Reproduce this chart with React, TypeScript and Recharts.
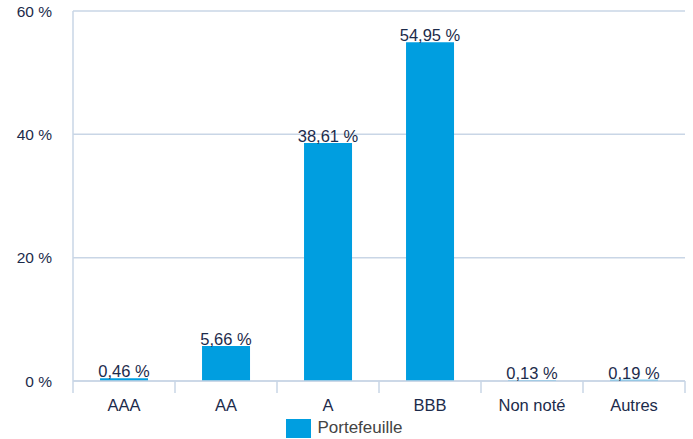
import React from 'react';
import { BarChart, Bar, XAxis, YAxis, CartesianGrid, Legend, LabelList } from 'recharts';

// notations du portefeuille
const categories = ['AAA', 'AA', 'A', 'BBB', 'Non noté', 'Autres'];
const portefeuille = [0.46, 5.66, 38.61, 54.95, 0.13, 0.19];
const yTicks = [0, 20, 40, 60];

const data = categories.map((name, i) => ({ name, Portefeuille: portefeuille[i] }));

const FONT = '"Liberation Sans", Arial, Helvetica, sans-serif';
const NAVY = '#1c2b4b';
const GRID = '#c9d6e6';
const BLUE = '#009ee0';

const fmt = (v: number) => v.toFixed(2).replace('.', ',') + ' %';

// libellé centré + petit trait de séparation aux bornes des catégories
const CategoryTick = (props: any) => {
  const { x, y, payload, index } = props;
  const half = payload && payload.offset ? payload.offset : 51;
  const last = index === categories.length - 1;
  return (
    <g>
      <line x1={x - half} y1={y} x2={x - half} y2={y + 12} stroke={GRID} strokeWidth={1.5} />
      {last && <line x1={x + half} y1={y} x2={x + half} y2={y + 12} stroke={GRID} strokeWidth={1.5} />}
      <text x={x} y={y + 30} textAnchor="middle" fill={NAVY} fontSize={16.5} fontFamily={FONT}>
        {payload.value}
      </text>
    </g>
  );
};

const ValueLabel = (props: any) => {
  const { x, y, width, value } = props;
  return (
    <text x={Number(x) + Number(width) / 2} y={Number(y) - 1} textAnchor="middle" fill={NAVY} fontSize={16.5} fontFamily={FONT}>
      {fmt(Number(value))}
    </text>
  );
};

const LegendBox = () => (
  <div style={{ display: 'flex', justifyContent: 'center', alignItems: 'center', height: 22 }}>
    <div style={{ width: 25, height: 19, background: BLUE, marginRight: 6, marginLeft: 4 }} />
    <span style={{ fontFamily: FONT, fontSize: 17, color: '#444' }}>Portefeuille</span>
  </div>
);

const App = () => {
  return (
    <div style={{ width: 693, height: 439 }}>
      <style>{'body{margin:0}'}</style>
      <BarChart
        width={693}
        height={439}
        data={data}
        margin={{ top: 11, right: 8, left: 0, bottom: 0 }}
        barCategoryGap="26.5%"
      >
        <CartesianGrid vertical={false} stroke={GRID} strokeWidth={1.5} />
        <XAxis
          dataKey="name"
          tickLine={false}
          tickSize={0}
          tickMargin={0}
          axisLine={{ stroke: GRID, strokeWidth: 1.5 }}
          height={36}
          interval={0}
          tick={<CategoryTick />}
        />
        <YAxis
          domain={[0, 60]}
          ticks={yTicks}
          width={73}
          tickLine={false}
          tickSize={0}
          tickMargin={21}
          axisLine={{ stroke: GRID, strokeWidth: 1.5 }}
          tickFormatter={(v: number) => `${v} %`}
          tick={{ fill: NAVY, fontSize: 15.5, fontFamily: FONT }}
        />
        <Legend verticalAlign="bottom" content={<LegendBox />} />
        <Bar dataKey="Portefeuille" fill={BLUE} isAnimationActive={false}>
          <LabelList dataKey="Portefeuille" content={<ValueLabel />} />
        </Bar>
      </BarChart>
    </div>
  );
};

export default App;
